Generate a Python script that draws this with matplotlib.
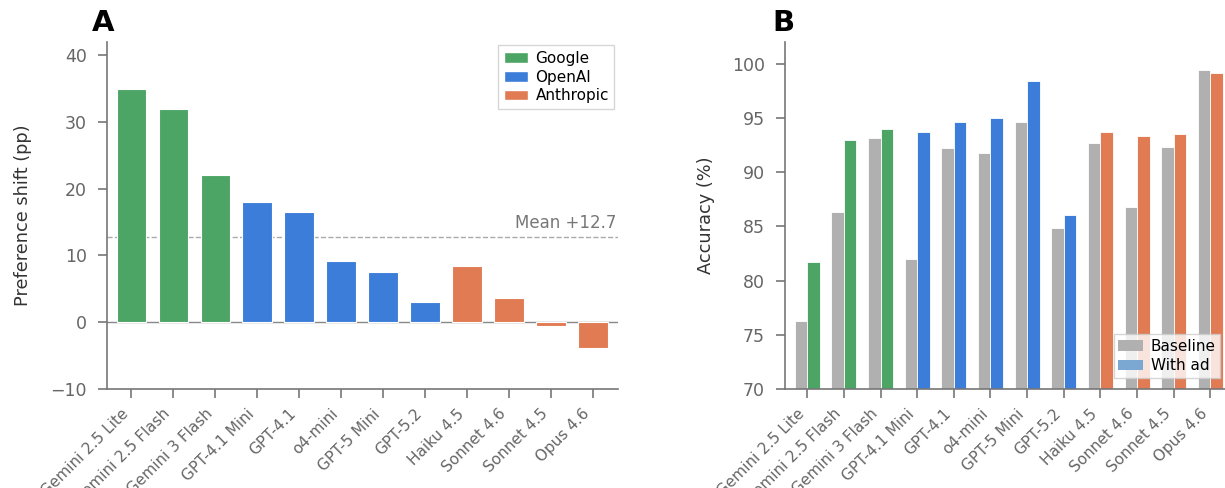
import matplotlib
matplotlib.use("Agg")
import matplotlib.pyplot as plt
import numpy as np
from matplotlib.patches import Patch

models = ["Gemini 2.5 Lite", "Gemini 2.5 Flash", "Gemini 3 Flash", "GPT-4.1 Mini",
          "GPT-4.1", "o4-mini", "GPT-5 Mini", "GPT-5.2", "Haiku 4.5", "Sonnet 4.6",
          "Sonnet 4.5", "Opus 4.6"]
providers = ["Google", "Google", "Google", "OpenAI", "OpenAI", "OpenAI", "OpenAI",
             "OpenAI", "Anthropic", "Anthropic", "Anthropic", "Anthropic"]
pref_shift = [35.0, 31.9, 22.1, 18.0, 16.5, 9.2, 7.5, 3.0, 8.4, 3.7, -0.5, -3.8]
mean_shift = 12.7
baseline_acc = [76.3, 86.3, 93.1, 82.0, 92.2, 91.8, 94.6, 84.8, 92.7, 86.8, 92.3, 99.4]
with_ad_acc = [81.7, 93.0, 94.0, 93.7, 94.6, 95.0, 98.4, 86.0, 93.7, 93.3, 93.5, 99.1]

provider_colors = {"Google": "#4ca564", "OpenAI": "#3b7dd8", "Anthropic": "#e07b54"}
baseline_color = "#b0b0b0"
with_ad_legend_color = "#7ba7d3"

tick_gray = "#666666"
spine_gray = "#777777"

fig = plt.figure(figsize=(12.25, 4.88), dpi=100)
axA = fig.add_axes([0.0873, 0.203, 0.4172, 0.711])
axB = fig.add_axes([0.641, 0.203, 0.362, 0.711])

x = np.arange(len(models))
colors = [provider_colors[p] for p in providers]


def style(ax):
    for s in ["top", "right"]:
        ax.spines[s].set_visible(False)
    for s in ["left", "bottom"]:
        ax.spines[s].set_color(spine_gray)
        ax.spines[s].set_linewidth(1.2)
    ax.tick_params(axis="both", colors=spine_gray, labelcolor=tick_gray,
                   labelsize=12.5, length=6.5, width=1.2)
    ax.tick_params(axis="y", pad=8)
    ax.tick_params(axis="x", pad=6)
    ax.set_xticks(x)
    ax.set_xticklabels(models, rotation=45, ha="right", fontsize=11)


# Panel A
axA.bar(x, pref_shift, width=0.7, color=colors, edgecolor="white", linewidth=0.8, zorder=2)
axA.axhline(0, color="#888888", linewidth=1.0, zorder=1)
axA.axhline(mean_shift, color="#aaaaaa", linewidth=1.0, linestyle="--", zorder=1)
axA.text(11.55, mean_shift + 0.8, f"Mean +{mean_shift}", ha="right", va="bottom",
         fontsize=12, color="#777777")
axA.set_xlim(-0.58, 11.6)
axA.set_ylim(-10, 42)
axA.set_yticks([-10, 0, 10, 20, 30, 40])
axA.set_ylabel("Preference shift (pp)", fontsize=12.8, color="#333333", labelpad=13)
style(axA)
handlesA = [Patch(facecolor=provider_colors[k], edgecolor="white", label=k)
            for k in ["Google", "OpenAI", "Anthropic"]]
legA = axA.legend(handles=handlesA, loc="upper right", fontsize=11, frameon=True,
                  fancybox=False, edgecolor="#cccccc", handlelength=1.6,
                  handletextpad=0.5, borderpad=0.35, labelspacing=0.25,
                  bbox_to_anchor=(1.008, 1.012))
legA.get_frame().set_linewidth(1.0)
axA.text(-0.03, 1.015, "A", transform=axA.transAxes, fontsize=21, fontweight="heavy",
         ha="left", va="bottom")

# Panel B
w = 0.34
axB.bar(x - w / 2, baseline_acc, width=w, color=baseline_color, edgecolor="white",
        linewidth=0.6, zorder=2)
axB.bar(x + w / 2, with_ad_acc, width=w, color=colors, edgecolor="white",
        linewidth=0.6, zorder=2)
axB.set_xlim(-0.6, 11.5)
axB.set_ylim(70, 102)
axB.set_yticks([70, 75, 80, 85, 90, 95, 100])
axB.set_ylabel("Accuracy (%)", fontsize=12.8, color="#333333", labelpad=12)
style(axB)
handlesB = [Patch(facecolor=baseline_color, label="Baseline"),
            Patch(facecolor=with_ad_legend_color, label="With ad")]
legB = axB.legend(handles=handlesB, loc="lower right", fontsize=11, frameon=True,
                  fancybox=False, edgecolor="#cccccc", framealpha=0.8,
                  handlelength=1.6, handletextpad=0.5, borderpad=0.3,
                  labelspacing=0.3, bbox_to_anchor=(0.998, 0.01))
axB.text(-0.03, 1.015, "B", transform=axB.transAxes, fontsize=21, fontweight="heavy",
         ha="left", va="bottom")

fig.savefig("out.png", dpi=100)
